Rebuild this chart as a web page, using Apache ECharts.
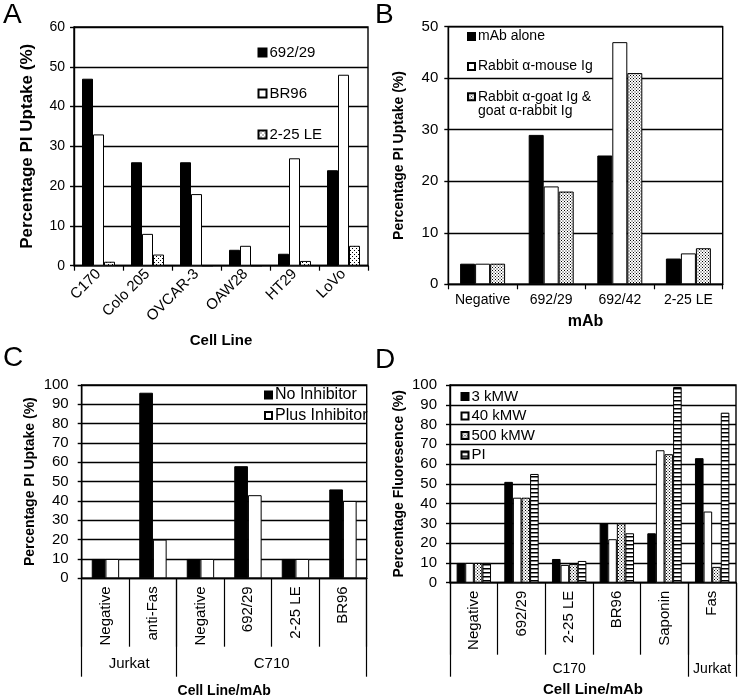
<!DOCTYPE html>
<html><head><meta charset="utf-8">
<script src="https://cdn.jsdelivr.net/npm/echarts@6/dist/echarts.min.js"></script>
<style>html,body{margin:0;padding:0;background:#fff}#c{width:741px;height:698px}</style>
</head><body><div id="c"></div>
<script>
// ---------- Panel A ----------
const aCategories = ['C170', 'Colo 205', 'OVCAR-3', 'OAW28', 'HT29', 'LoVo'];
const aSeriesNames = ['692/29', 'BR96', '2-25 LE'];
const a69229 = [47, 26, 26, 4, 3, 24];
const aBR96 = [33, 8, 18, 5, 27, 48];
const a225LE = [1, 2.8, 0, 0, 1.2, 5];
const aTicks = [0, 10, 20, 30, 40, 50, 60];

// ---------- Panel B ----------
const bCategories = ['Negative', '692/29', '692/42', '2-25 LE'];
const bSeriesNames = ['mAb alone', 'Rabbit α-mouse Ig', 'Rabbit α-goat Ig & goat α-rabbit Ig'];
const bAlone = [4, 29, 25, 5];
const bMouse = [4, 19, 47, 6];
const bGoat = [4, 18, 41, 7];
const bTicks = [0, 10, 20, 30, 40, 50];

// ---------- Panel C ----------
const cCategories = ['Negative', 'anti-Fas', 'Negative', '692/29', '2-25 LE', 'BR96'];
const cGroups = ['Jurkat', 'C710'];
const cGroupSpans = [2, 4];
const cSeriesNames = ['No Inhibitor', 'Plus Inhibitor'];
const cNo = [10, 96, 10, 58, 10, 46];
const cPlus = [10, 20, 10, 43, 10, 40];
const cTicks = [0, 10, 20, 30, 40, 50, 60, 70, 80, 90, 100];

// ---------- Panel D ----------
const dCategories = ['Negative', '692/29', '2-25 LE', 'BR96', 'Saponin', 'Fas'];
const dGroups = ['C170', 'Jurkat'];
const dGroupSpans = [5, 1];
const dSeriesNames = ['3 kMW', '40 kMW', '500 kMW', 'PI'];
const d3k = [10, 51, 12, 30, 25, 63];
const d40k = [10, 43, 9, 22, 67, 36];
const d500k = [10, 43, 9.5, 30, 65, 8];
const dPI = [10, 55, 11, 25, 99, 86];
const dTicks = [0, 10, 20, 30, 40, 50, 60, 70, 80, 90, 100];

const FONT = 'Liberation Sans, Arial, sans-serif';

function dots(step) {
  const c = document.createElement('canvas');
  c.width = step; c.height = step;
  const g = c.getContext('2d');
  g.fillStyle = '#fff'; g.fillRect(0, 0, step, step);
  g.fillStyle = '#000';
  g.fillRect(0, 0, 1, 1);
  g.fillRect(step / 2, step / 2, 1, 1);
  return { image: c, repeat: 'repeat' };
}
function stripes() {
  const c = document.createElement('canvas');
  c.width = 4; c.height = 4;
  const g = c.getContext('2d');
  g.fillStyle = '#fff'; g.fillRect(0, 0, 4, 4);
  g.fillStyle = '#000'; g.fillRect(0, 0, 4, 1.5);
  return { image: c, repeat: 'repeat' };
}
const BLACK = '#000', WHITE = '#fff';
const LINE_W = 1.4;

function groupBounds(spans) {
  const b = [0]; spans.forEach(s => b.push(b[b.length - 1] + s)); return b;
}
function groupCenters(spans) {
  const b = groupBounds(spans); return spans.map((s, i) => b[i] + s / 2);
}

function yAxis(gi, max, margin, fontSize, name, nameGap, nameSize) {
  return {
    type: 'value', gridIndex: gi, min: 0, max: max, interval: 10,
    axisLine: { show: true, lineStyle: { color: '#000', width: LINE_W } },
    axisTick: { show: true, length: 4, lineStyle: { color: '#000', width: LINE_W } },
    axisLabel: { margin: margin, fontSize: fontSize, color: '#000', fontFamily: FONT },
    splitLine: { show: true, lineStyle: { color: '#000', width: LINE_W } },
    name: name, nameLocation: 'middle', nameGap: nameGap, nameMoveOverlap: false,
    nameTextStyle: { fontSize: nameSize, fontWeight: 'bold', color: '#000', fontFamily: FONT }
  };
}
function xCat(gi, data, opts) {
  return Object.assign({
    type: 'category', gridIndex: gi, data: data,
    axisLine: { show: true, lineStyle: { color: '#000', width: LINE_W } },
    axisTick: { show: true, alignWithLabel: false, length: opts.tickLen, lineStyle: { color: '#000', width: 1.2 } },
    axisLabel: { interval: 0, rotate: opts.rotate || 0, margin: opts.margin, fontSize: opts.fontSize, color: '#000', fontFamily: FONT },
    splitLine: { show: false }
  }, opts.extra || {});
}
function xGroup(gi, groups, spans, offset, opts) {
  const centers = groupCenters(spans);
  const total = spans.reduce((a, b) => a + b, 0);
  return {
    type: 'value', gridIndex: gi, min: 0, max: total, position: 'bottom', offset: offset,
    axisLine: { show: false },
    axisTick: { show: true, inside: true, length: offset, customValues: groupBounds(spans), lineStyle: { color: '#000', width: 1.2 } },
    axisLabel: {
      inside: true, margin: opts.margin, customValues: centers, fontSize: opts.fontSize, color: '#000', fontFamily: FONT,
      formatter: v => { const i = centers.indexOf(v); return i >= 0 ? groups[i] : ''; }
    },
    splitLine: { show: false },
    name: opts.name, nameLocation: 'middle', nameGap: opts.nameGap, nameMoveOverlap: false,
    nameTextStyle: { fontSize: opts.nameSize, fontWeight: 'bold', color: '#000', fontFamily: FONT }
  };
}
function bar(name, xi, data, color, width) {
  return {
    type: 'bar', name: name, xAxisIndex: xi, yAxisIndex: xi, data: data,
    barWidth: width, barGap: '0%',
    itemStyle: { color: color, borderColor: '#000', borderWidth: 1 },
    emphasis: { disabled: true }
  };
}
function legend(names, left, top, gap, size, fs, extra) {
  return Object.assign({
    data: names, orient: 'vertical', left: left, top: top, itemGap: gap, padding: 0,
    itemWidth: size, itemHeight: size, icon: 'rect', selectedMode: false,
    textStyle: { fontSize: fs, color: '#000', fontFamily: FONT, padding: [0, 0, 0, -2] }
  }, extra || {});
}
function letter(t, left, top) {
  return { text: t, left: left, top: top, padding: 0, textStyle: { fontSize: 28, fontWeight: 'normal', color: '#000', fontFamily: FONT } };
}

const gridBase = { show: true, borderColor: '#000', borderWidth: LINE_W, backgroundColor: 'transparent', containLabel: false, outerBoundsMode: 'none' };

const option = {
  animation: false,
  backgroundColor: '#fff',
  title: [letter('A', 3, 1), letter('B', 375, 1), letter('C', 3, 344), letter('D', 375, 346)],
  grid: [
    Object.assign({ left: 74, top: 27, width: 294, height: 238.7 }, gridBase),
    Object.assign({ left: 448.3, top: 26.7, width: 274.4, height: 257.6 }, gridBase),
    Object.assign({ left: 81.7, top: 385, width: 285, height: 193.3 }, gridBase),
    Object.assign({ left: 450, top: 385, width: 286, height: 197.7 }, gridBase)
  ],
  xAxis: [
    xCat(0, aCategories, { tickLen: 5, rotate: 45, margin: 6, fontSize: 15, extra: {
      name: 'Cell Line', nameLocation: 'middle', nameGap: 68, nameMoveOverlap: false,
      nameTextStyle: { fontSize: 15, fontWeight: 'bold', color: '#000', fontFamily: FONT } } }),
    xCat(1, bCategories, { tickLen: 5, rotate: 0, margin: 9, fontSize: 14, extra: {
      name: 'mAb', nameLocation: 'middle', nameGap: 29, nameMoveOverlap: false,
      nameTextStyle: { fontSize: 16, fontWeight: 'bold', color: '#000', fontFamily: FONT } } }),
    xCat(2, cCategories, { tickLen: 68.4, rotate: 90, margin: 8, fontSize: 15 }),
    xCat(3, dCategories, { tickLen: 72, rotate: 90, margin: 8, fontSize: 15 }),
    xGroup(2, cGroups, cGroupSpans, 98.4, { margin: 5, fontSize: 15, name: 'Cell Line/mAb', nameGap: 7.5, nameSize: 14 }),
    xGroup(3, dGroups, dGroupSpans, 94, { margin: 1, fontSize: 14, name: 'Cell Line/mAb', nameGap: 6, nameSize: 15 })
  ],
  yAxis: [
    yAxis(0, 60, 9, 14, 'Percentage PI Uptake (%)', 38, 17),
    yAxis(1, 50, 10, 15, 'Percentage PI Uptake (%)', 42, 14),
    yAxis(2, 100, 13, 15, 'Percentage PI Uptake (%)', 45, 14),
    yAxis(3, 100, 13, 15, 'Percentage Fluoresence (%)', 44, 14)
  ],
  legend: [
    legend(aSeriesNames, 257.5, 45, 26, 8, 15),
    legend(bSeriesNames.slice(0, 2), 467, 29.5, 16, 7, 14),
    legend(bSeriesNames.slice(2), 467, 75.7, 0, 7, 14, {
      formatter: () => '\nRabbit α-goat Ig &\ngoat α-rabbit Ig',
      textStyle: { fontSize: 14, lineHeight: 14, color: '#000', fontFamily: FONT, padding: [0, 0, 0, -2] } }),
    legend(cSeriesNames, 264, 387, 4.5, 7, 16),
    legend(dSeriesNames, 460.5, 389, 4.5, 7, 15)
  ],
  series: [
    bar(aSeriesNames[0], 0, a69229, BLACK, 11),
    bar(aSeriesNames[1], 0, aBR96, WHITE, 11),
    bar(aSeriesNames[2], 0, a225LE, dots(4), 11),
    bar(bSeriesNames[0], 1, bAlone, BLACK, 15),
    bar(bSeriesNames[1], 1, bMouse, WHITE, 15),
    bar(bSeriesNames[2], 1, bGoat, dots(3), 15),
    bar(cSeriesNames[0], 2, cNo, BLACK, 13.7),
    bar(cSeriesNames[1], 2, cPlus, WHITE, 13.7),
    bar(dSeriesNames[0], 3, d3k, BLACK, 8.6),
    bar(dSeriesNames[1], 3, d40k, WHITE, 8.6),
    bar(dSeriesNames[2], 3, d500k, dots(3), 8.6),
    bar(dSeriesNames[3], 3, dPI, stripes(), 8.6)
  ]
};
const chart = echarts.init(document.getElementById('c'), null, { renderer: 'canvas' });
chart.setOption(option);
</script>
</body></html>
